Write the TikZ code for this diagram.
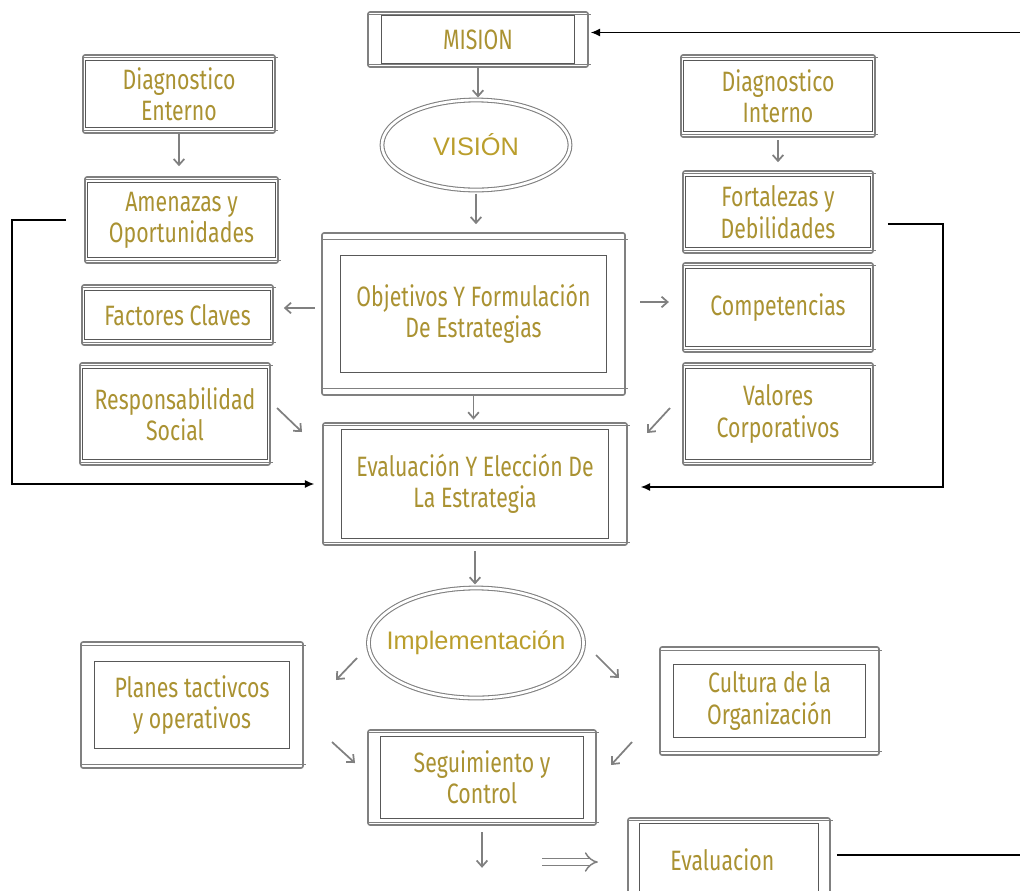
\documentclass[tikz,border=0pt]{standalone}
\usepackage{fontspec}
\setmainfont{Fira Sans}[FakeStretch=0.76]
\newfontfamily\ovalfont{Liberation Sans}
\usetikzlibrary{shapes.geometric,arrows.meta}
\definecolor{txtgold}{RGB}{170,146,50}
\definecolor{ovgold}{RGB}{186,158,44}
\definecolor{skgray}{RGB}{128,128,128}
\definecolor{skdark}{RGB}{88,88,88}
\def\pxu{0.75pt}
\tikzset{
  skouter/.style={draw=skgray, line width=1.2pt, rounded corners=1.5pt, inner sep=0pt, align=center,
    text=txtgold, font=\fontsize{21}{23.5}\selectfont},
  skinner/.style={draw=skdark, line width=0.7pt},
  skextra/.style={draw=skgray, line width=0.9pt},
  ovalnode/.style={ellipse, draw=skgray, line width=0.8pt, double=white, double distance=2pt,
    inner sep=0pt, text=ovgold, font=\ovalfont\fontsize{19}{22}\selectfont},
  garrow/.style={draw=skgray, line width=1.3pt, -{Straight Barb[length=4.5pt,width=8pt]}},
  darrow/.style={draw=skgray, double=white, line width=1.1pt, double distance=4pt, -{Implies}},
  bline/.style={draw=black, line width=0.8pt},
  btip/.style={-{Latex[length=7pt,width=6pt]}},
}
% #1 name, #2 cx, #3 cy, #4 outer w, #5 outer h, #6 inner dx, #7 inner dy, #8 extra line offset, #9 text
\newcommand{\SkBox}[9]{%
  \node[skouter, minimum width=#4*\pxu, minimum height=#5*\pxu] (#1) at (#2,#3) {#9};
  \draw[skinner] ([shift={(#6,#7)}]#1.north west) rectangle ([shift={(-#6,-#7)}]#1.south east);
  \draw[skextra] ([shift={(1,#8)}]#1.north west) -- ([shift={(2,#8)}]#1.north east);
  \draw[skextra] ([shift={(1,-#8)}]#1.south west) -- ([shift={(2,-#8)}]#1.south east);
}
\begin{document}
\begin{tikzpicture}[x=0.75pt,y=-0.75pt]
\useasboundingbox (0,0) rectangle (1020,890);
\fill[white] (0,0) rectangle (1020,890);
\clip (0,0) rectangle (1020,890);

% central column
\SkBox{mision}{478}{39.5}{220}{55}{14}{4}{3}{MISION}
\node[ovalnode, minimum width=188*\pxu, minimum height=90*\pxu] (vision) at (476,145) {VISIÓN};
\SkBox{obj}{473.5}{314}{303}{162}{19}{23}{7}{Objetivos Y Formulación\\De Estrategias}
\SkBox{evalE}{475}{484}{304}{122}{19}{7}{3}{Evaluación Y Elección De\\La Estrategia}
\node[ovalnode, inner xsep=-10pt, minimum width=210*\pxu, minimum height=110*\pxu] (impl) at (476,643) {Implementación};

% left column
\SkBox{diagE}{179}{94}{192}{78}{3}{6}{3}{Diagnostico\\Enterno}
\SkBox{amen}{181.5}{220}{193}{86}{3}{6}{3}{Amenazas y\\Oportunidades}
\SkBox{fact}{177.5}{315}{191}{60}{3}{6}{3}{Factores Claves}
\SkBox{resp}{175}{414}{190}{102}{3}{6}{3}{Responsabilidad\\Social}

% right column
\SkBox{diagI}{778}{96}{194}{82}{3}{6}{3}{Diagnostico\\Interno}
\SkBox{fort}{778}{212}{190}{82}{3}{6}{3}{Fortalezas y\\Debilidades}
\SkBox{comp}{778}{307.5}{190}{89}{3}{6}{3}{Competencias}
\SkBox{val}{778}{414}{190}{102}{3}{6}{3}{Valores\\Corporativos}

% bottom
\SkBox{planes}{192}{705}{222}{126}{14}{20}{4}{Planes tactivcos\\y operativos}
\SkBox{seg}{482}{777.5}{228}{95}{13}{7}{3}{Seguimiento y\\Control}
\SkBox{cult}{769.5}{701}{219}{108}{14}{18}{4}{Cultura de la\\Organización}
\SkBox{evalc}{729}{860}{202}{84}{12}{6}{3}{\hspace*{-10pt}Evaluacion}

% gray arrows, vertical
\draw[garrow, shorten >=1.5pt] (mision.south) -- (mision.south |- vision.north);
\draw[garrow, shorten <=2.25pt, shorten >=6pt] (vision.south) -- (vision.south |- obj.north);
\draw[garrow, shorten >=2pt] (obj.south) -- (obj.south |- evalE.north);
\draw[garrow, shorten <=4pt, shorten >=2.25pt] (evalE.south) -- (evalE.south |- impl.north);
\draw[garrow, shorten >=7.5pt] (diagE.south) -- (diagE.south |- amen.north);
\draw[garrow, shorten <=2pt, shorten >=6pt] (diagI.south) -- (diagI.south |- fort.north);
\draw[garrow, shorten <=5pt] (seg.south) -- ++(0,42);

% gray arrows, horizontal
\coordinate (ocl) at ([shift={(0,-6)}]obj.west);
\draw[garrow, shorten <=5pt, shorten >=7.5pt] (ocl) -- (ocl -| fact.east);
\coordinate (ocr) at ([shift={(0,-12)}]obj.east);
\draw[garrow, shorten <=11pt, shorten >=10pt] (ocr) -- (ocr -| comp.west);

% gray arrows, diagonal
\coordinate (ra) at (277,408); \coordinate (rb) at (302,432);
\draw[garrow] (ra) -- (rb);
\coordinate (va) at (670,408); \coordinate (vb) at (647,433);
\draw[garrow] (va) -- (vb);
\coordinate (ipa) at (357,658); \coordinate (ipb) at (336,680);
\draw[garrow] (ipa) -- (ipb);
\coordinate (ica) at (596,655); \coordinate (icb) at (619,678);
\draw[garrow] (ica) -- (icb);
\coordinate (psa) at (332,742); \coordinate (psb) at (355,763);
\draw[garrow] (psa) -- (psb);
\coordinate (csa) at (632,742); \coordinate (csb) at (611,765);
\draw[garrow] (csa) -- (csb);

% double arrow
\coordinate (da) at (542,862);
\draw[darrow, shorten >=22pt] (da) -- (da -| evalc.west);

% black connectors
\coordinate (lc) at (12,484);
\draw[bline, btip, shorten <=13.5pt, shorten >=6pt] (amen.west) -- (amen.west -| lc) -- (lc) -- (lc -| evalE.west);
\coordinate (fr) at ([shift={(0,12)}]fort.east);
\coordinate (rc) at (943,487);
\draw[bline, btip, shorten <=10.5pt, shorten >=9.75pt] (fr) -- (fr -| rc) -- (rc) -- (rc -| evalE.east);
\coordinate (tc) at (1040,855);
\coordinate (ms) at ([shift={(0,-7)}]mision.east);
\coordinate (ev) at ([shift={(0,-5)}]evalc.east);
\draw[bline, btip, shorten <=4.5pt, shorten >=1.5pt] (ev) -- (ev -| tc) -- (tc |- ms) -- (ms);
\end{tikzpicture}
\end{document}
